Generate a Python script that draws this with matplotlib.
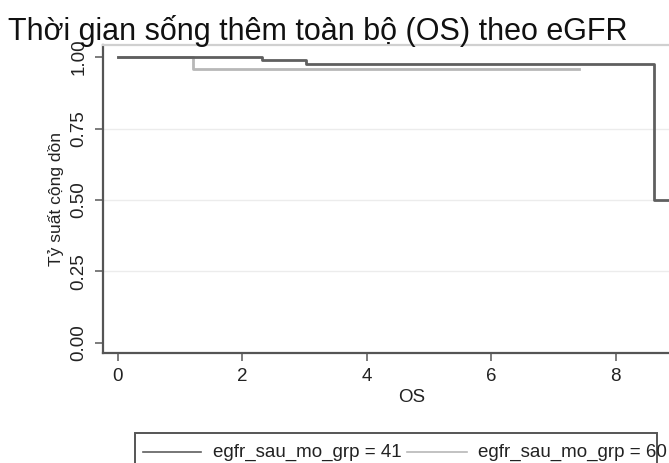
"""
Recreate Kaplan-Meier style OS curves by eGFR group (Stata-like look).
"""
import matplotlib
matplotlib.use("Agg")
import matplotlib.pyplot as plt
from matplotlib.lines import Line2D
from matplotlib.patches import Rectangle

plt.rcParams["font.family"] = ["Liberation Sans", "DejaVu Sans"]

# --- data ---
group_labels = ["egfr_sau_mo_grp = 41", "egfr_sau_mo_grp = 60"]
# step curves: time points and survival after each time point
g41_time = [0.0, 2.32, 3.03, 8.62, 9.8]
g41_surv = [1.0, 0.99, 0.974, 0.50, 0.50]
g60_time = [0.0, 1.21, 7.42]
g60_surv = [1.0, 0.957, 0.957]

x_ticks = [0, 2, 4, 6, 8]
y_ticks = [0.0, 0.25, 0.5, 0.75, 1.0]
y_tick_labels = ["0.00", "0.25", "0.50", "0.75", "1.00"]
grid_y = [0.25, 0.5, 0.75]

title = "Thời gian sống thêm toàn bộ (OS) theo eGFR"
x_label = "OS"
y_label = "Tỷ suất cộng dồn"

dark = "#5f5f5f"
light = "#b8b8b8"

W, H = 669, 463
fig = plt.figure(figsize=(W / 100, H / 100), dpi=100)

# axes box in pixels (extends past the right edge, like the cropped original)
left_px, right_px, top_px, bottom_px = 103, 720, 45, 353
ax = fig.add_axes([left_px / W, 1 - bottom_px / H,
                   (right_px - left_px) / W, (bottom_px - top_px) / H])
ax.set_xlim(-0.24, -0.24 + (right_px - left_px) / 62.2)
ax.set_ylim(-0.035, 1.042)

for gy in grid_y:
    ax.axhline(gy, color="#ececec", lw=1.0, zorder=0)

ax.step(g60_time, g60_surv, where="post", color=light, lw=2.0, zorder=2)
ax.step(g41_time, g41_surv, where="post", color=dark, lw=2.0, zorder=3)

ax.spines["right"].set_visible(False)
ax.spines["top"].set_color("#d0d0d0")
ax.spines["top"].set_linewidth(1.6)
for s in ("left", "bottom"):
    ax.spines[s].set_color("#555555")
    ax.spines[s].set_linewidth(1.6)

ax.set_xticks(x_ticks)
ax.set_yticks(y_ticks)
ax.set_yticklabels(y_tick_labels, rotation=90, va="center")
ax.tick_params(axis="both", colors="#666666", length=6, width=1.2,
               labelsize=13.5, labelcolor="#222222", pad=5)
ax.set_xlabel(x_label, fontsize=13.5, color="#222222", labelpad=3)
ax.set_ylabel(y_label, fontsize=12.5, color="#222222", labelpad=5)

fig.text(8 / W, 1 - 40 / H, title, fontsize=22, va="baseline", ha="left",
         color="#111111")

# legend box, drawn by hand like the Stata output (cropped at the bottom)
box = Rectangle((135 / W, -0.05), (657 - 135) / W, 0.05 + (1 - 433 / H),
                transform=fig.transFigure, fill=False, edgecolor="#555555",
                lw=1.4)
fig.add_artist(box)
leg_y = 1 - 452 / H
entries = [(143, 201, 213, dark), (407, 467, 478, light)]
for (x0, x1, tx, col), lab in zip(entries, group_labels):
    fig.add_artist(Line2D([x0 / W, x1 / W], [leg_y, leg_y],
                          transform=fig.transFigure, color=col, lw=1.2))
    fig.text(tx / W, leg_y, lab, fontsize=13.5, va="center", ha="left",
             color="#222222")

fig.savefig("out.png", dpi=100)
